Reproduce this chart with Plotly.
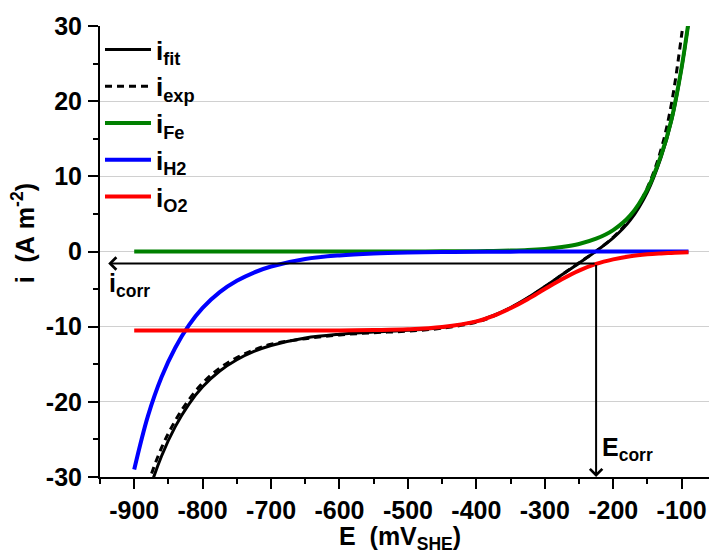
import plotly.graph_objects as go

# ---------------- data ----------------
E = [-900, -880, -860, -840, -820, -800, -775, -750, -725, -700, -650, -600,
     -550, -500, -450, -400, -375, -350, -325, -300, -275, -250, -225, -200,
     -175, -150, -130, -115, -100, -90]

i_fit = [-39.5, -32.4, -27.2, -23.3, -20.3, -18.0, -15.9, -14.4, -13.3, -12.5,
         -11.5, -11.0, -10.7, -10.48, -10.1, -9.3, -8.5, -7.45, -6.16, -4.66,
         -3.1, -1.55, 0.05, 1.8, 4.17, 7.92, 12.54, 17.3, 24.36, 30.4]

i_exp = [-37.2, -31.0, -26.1, -22.5, -19.7, -17.5, -15.5, -14.1, -13.1, -12.35,
         -11.6, -11.1, -10.8, -10.6, -10.2, -9.4, -8.6, -7.5, -6.2, -4.7,
         -3.1, -1.5, 0.05, 1.9, 4.4, 8.5, 13.6, 19.6, 28.8, 36.0]

i_Fe = [0, 0, 0, 0, 0, 0, 0, 0, 0, 0, 0, 0, 0, 0.01, 0.02, 0.04, 0.07, 0.12,
        0.2, 0.35, 0.6, 1.0, 1.7, 2.85, 4.8, 8.3, 12.8, 17.5, 24.5, 30.5]

i_H2 = [-29.0, -21.9, -16.7, -12.8, -9.8, -7.5, -5.4, -3.9, -2.8, -2.0, -1.0,
        -0.52, -0.27, -0.14, -0.07, -0.04, -0.03, -0.02, -0.013, -0.01, -0.007,
        -0.005, -0.003, -0.002, -0.001, -0.001, 0, 0, 0, 0]

i_O2 = [-10.5, -10.5, -10.5, -10.5, -10.5, -10.5, -10.5, -10.5, -10.5, -10.5,
        -10.5, -10.5, -10.45, -10.35, -10.05, -9.3, -8.55, -7.55, -6.35, -5.0,
        -3.7, -2.55, -1.65, -1.05, -0.63, -0.38, -0.26, -0.19, -0.14, -0.11]

E_corr = -225
i_corr = -1.6
E_arrow_end = -938

x_tickvals = [-900, -800, -700, -600, -500, -400, -300, -200, -100]
x_ticktext = ["-900", "-800", "-700", "-600", "-500", "-400", "-300", "-200", "-100"]
y_tickvals = [-30, -20, -10, 0, 10, 20, 30]
y_ticktext = ["-30", "-20", "-10", "0", "10", "20", "30"]

FONT = "Arial, Liberation Sans, sans-serif"
FS = 25

fig = go.Figure()
fig.add_trace(go.Scatter(x=E, y=i_fit, mode="lines", name="i<sub>fit</sub>",
                         line=dict(color="black", width=3, shape="spline")))
fig.add_trace(go.Scatter(x=E, y=i_exp, mode="lines", name="i<sub>exp</sub>",
                         line=dict(color="black", width=3, dash="7px,5px", shape="spline")))
fig.add_trace(go.Scatter(x=E, y=i_Fe, mode="lines", name="i<sub>Fe</sub>",
                         line=dict(color="#008000", width=4, shape="spline")))
fig.add_trace(go.Scatter(x=E, y=i_H2, mode="lines", name="i<sub>H2</sub>",
                         line=dict(color="#0000ff", width=4, shape="spline")))
fig.add_trace(go.Scatter(x=E, y=i_O2, mode="lines", name="i<sub>O2</sub>",
                         line=dict(color="#ff0000", width=4, shape="spline")))

# arrows
fig.add_annotation(x=E_corr, y=-30, ax=E_corr, ay=i_corr, xref="x", yref="y",
                   axref="x", ayref="y", showarrow=True, arrowhead=4,
                   arrowsize=1.2, arrowwidth=2, arrowcolor="black", text="")
fig.add_annotation(x=E_arrow_end, y=i_corr, ax=E_corr, ay=i_corr, xref="x", yref="y",
                   axref="x", ayref="y", showarrow=True, arrowhead=4,
                   arrowsize=1.2, arrowwidth=2, arrowcolor="black", text="")
fig.add_annotation(x=E_arrow_end - 2, y=i_corr - 0.4, xref="x", yref="y", showarrow=False,
                   text="i<sub>corr</sub>", xanchor="left", yanchor="top",
                   font=dict(family=FONT, size=FS, color="black", weight="bold"))
fig.add_annotation(x=E_corr + 6, y=-30 + 1.3, xref="x", yref="y", showarrow=False,
                   text="E<sub>corr</sub>", xanchor="left", yanchor="bottom",
                   font=dict(family=FONT, size=FS, color="black", weight="bold"))

# axis titles
fig.add_annotation(x=-0.125, y=0.54, xref="paper", yref="paper", showarrow=False,
                   text="i&nbsp; (A&nbsp;m<sup>-2</sup>)", textangle=-90,
                   xanchor="center", yanchor="middle",
                   font=dict(family=FONT, size=FS, color="black", weight="bold"))
fig.add_annotation(x=0.492, y=-0.135, xref="paper", yref="paper", showarrow=False,
                   text="E&nbsp; (mV<sub>SHE</sub>)",
                   xanchor="center", yanchor="middle",
                   font=dict(family=FONT, size=FS, color="black", weight="bold"))

fig.update_layout(
    width=709, height=556,
    margin=dict(l=100, r=0, t=26, b=79),
    plot_bgcolor="white", paper_bgcolor="white",
    font=dict(family=FONT, size=FS, color="black", weight="bold"),
    showlegend=True,
    legend=dict(x=0.0, y=1.0, xanchor="left", yanchor="top",
                bgcolor="rgba(0,0,0,0)", font=dict(size=26),
                itemwidth=46, tracegroupgap=0),
)
fig.update_xaxes(range=[-950, -60], tickmode="array", tickvals=x_tickvals,
                 ticktext=x_ticktext, ticks="outside", ticklen=10, tickwidth=2,
                 tickcolor="black", showline=True, linecolor="black", linewidth=2,
                 showgrid=False, zeroline=False,
                 minor=dict(dtick=50, tick0=-950, ticks="outside", ticklen=5,
                            tickwidth=2, tickcolor="black", showgrid=False),
                 tickfont=dict(family=FONT, size=FS, color="black", weight="bold"))
fig.update_yaxes(range=[-30, 30], tickmode="array", tickvals=y_tickvals,
                 ticktext=y_ticktext, ticks="outside", ticklen=10, tickwidth=2,
                 tickcolor="black", showline=True, linecolor="black", linewidth=2,
                 showgrid=True, gridcolor="#d0d0d0", gridwidth=1, zeroline=False,
                 ticklabelstandoff=1,
                 minor=dict(dtick=5, tick0=-30, ticks="outside", ticklen=5,
                            tickwidth=2, tickcolor="black", showgrid=False),
                 tickfont=dict(family=FONT, size=FS, color="black", weight="bold"))

fig.write_html("out.html")
